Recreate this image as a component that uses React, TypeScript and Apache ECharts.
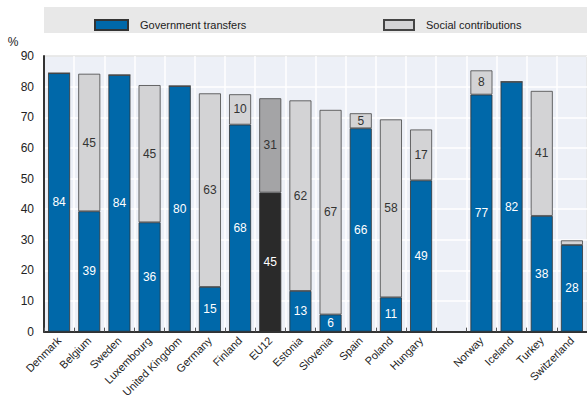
import React, { useEffect, useRef } from "react";
import * as echarts from "echarts";

const categories = [
  "Denmark", "Belgium", "Sweden", "Luxembourg", "United Kingdom", "Germany", "Finland", "EU12",
  "Estonia", "Slovenia", "Spain", "Poland", "Hungary", "", "Norway", "Iceland", "Turkey", "Switzerland",
];
const governmentTransfers: (number | null)[] = [
  84.4, 39.3, 83.8, 35.7, 80.2, 14.6, 67.6, 45.4, 13.3, 5.6, 66.4, 11.2, 49.4, null, 77.4, 81.6, 37.8, 28.3,
];
const socialContributions: (number | null)[] = [
  0, 44.9, 0, 44.8, 0, 63.2, 9.9, 30.8, 62.2, 66.8, 4.9, 58.1, 16.6, null, 7.9, 0, 40.8, 1.5,
];
const yTicks = { min: 0, max: 90, interval: 10 };

const FONT = "'Liberation Sans', Arial, sans-serif";
const BLUE = "#0068A9";
const LIGHT = "#D3D3D5";
const EU_DARK = "#2A2A2A";
const EU_GRAY = "#A4A4A6";

export default function App() {
  const ref = useRef<HTMLDivElement>(null);
  useEffect(() => {
    document.body.style.margin = "0";
    if (!ref.current) return;
    const chart = echarts.init(ref.current, null, { renderer: "svg" });
    const mk = (vals: (number | null)[], euColor: string) =>
      vals.map((v, i) => {
        if (v === null) return "-";
        if (categories[i] === "EU12") return { value: v, itemStyle: { color: euColor } };
        return v;
      });
    const labelFmt = (p: any) => (p.value >= 3 ? String(Math.round(p.value)) : "");
    chart.setOption({
      animation: false,
      textStyle: { fontFamily: FONT },
      grid: {
        left: 44, right: -6, top: 56, bottom: 67,
        show: true, backgroundColor: "#EDF0F7", borderColor: "#555", borderWidth: 1,
      },
      legend: [
        {
          left: 89, top: 14, itemWidth: 33, itemHeight: 10, icon: "rect",
          data: ["Government transfers"],
          textStyle: { fontSize: 11, color: "#222", fontFamily: FONT, padding: [0, 0, 0, 7] },
        },
        {
          left: 378, top: 14, itemWidth: 30, itemHeight: 10, icon: "rect",
          data: ["Social contributions"],
          textStyle: { fontSize: 11, color: "#222", fontFamily: FONT, padding: [0, 0, 0, 7] },
        },
      ],
      graphic: [
        { type: "rect", z: -10, shape: { x: 44, y: 7, width: 543, height: 26 }, style: { fill: "#E8E8E8" } },
        {
          type: "text", x: 13, y: 42,
          style: { text: "%", fontSize: 12, fill: "#222", fontFamily: FONT, align: "center", verticalAlign: "middle" },
        },
      ],
      xAxis: {
        type: "category",
        data: categories,
        axisLine: { lineStyle: { color: "#333", width: 2 } },
        axisTick: { show: true, inside: true, length: 4, lineStyle: { color: "#555" } },
        splitLine: { show: true, lineStyle: { color: "#FFFFFF", width: 1.5 } },
        axisLabel: { rotate: 45, fontSize: 11, color: "#222", margin: 7, interval: 0, fontFamily: FONT },
      },
      yAxis: {
        type: "value",
        min: yTicks.min, max: yTicks.max, interval: yTicks.interval,
        axisLine: { show: true, lineStyle: { color: "#333", width: 2 } },
        axisTick: { show: false },
        splitLine: { lineStyle: { color: "#FFFFFF", width: 1.5 } },
        axisLabel: { fontSize: 12, color: "#222", margin: 10, fontFamily: FONT },
      },
      series: [
        {
          name: "Government transfers",
          type: "bar",
          stack: "a",
          barWidth: 22,
          data: mk(governmentTransfers, EU_DARK),
          itemStyle: { color: BLUE, borderColor: "#333", borderWidth: 0.8 },
          label: { show: true, position: "inside", color: "#FFFFFF", fontSize: 12, fontFamily: FONT, formatter: labelFmt },
        },
        {
          name: "Social contributions",
          type: "bar",
          stack: "a",
          barWidth: 22,
          data: mk(socialContributions, EU_GRAY),
          itemStyle: { color: LIGHT, borderColor: "#444", borderWidth: 0.8 },
          label: { show: true, position: "inside", color: "#333", fontSize: 12, fontFamily: FONT, formatter: labelFmt },
        },
      ],
    });
    return () => chart.dispose();
  }, []);
  return <div ref={ref} style={{ width: 587, height: 400 }} />;
}
